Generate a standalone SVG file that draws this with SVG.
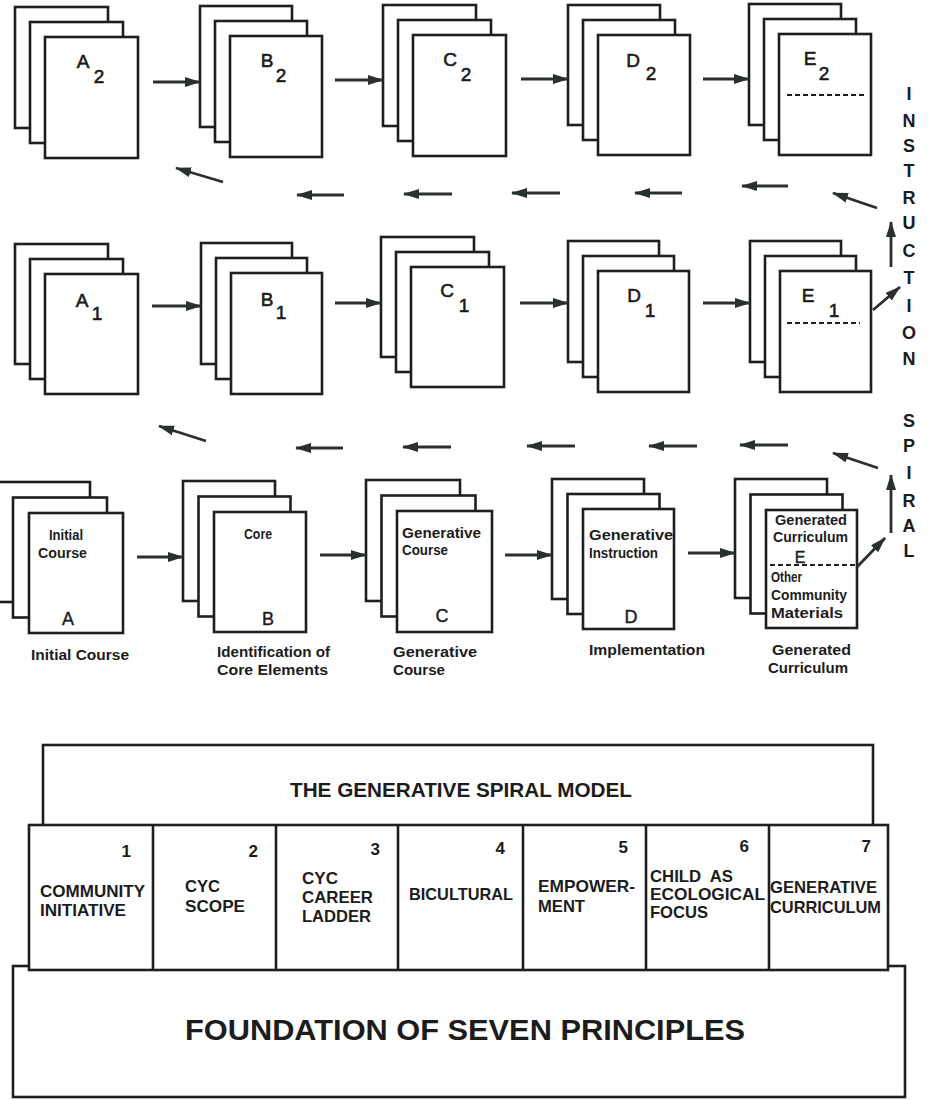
<svg xmlns="http://www.w3.org/2000/svg" width="929" height="1100" viewBox="0 0 929 1100">
<style>
text{font-family:"Liberation Sans",Arial,Helvetica,sans-serif;fill:#1c1c1c}
.pg{fill:#fff;stroke:#1e1e1e;stroke-width:2.6}
.pgb{fill:none;stroke:#1e1e1e;stroke-width:2.6}
.lbl{font-size:19px;text-anchor:middle;stroke:#1c1c1c;stroke-width:0.6}
.big{font-size:18px;text-anchor:middle;stroke:#1c1c1c;stroke-width:0.4}
.in{font-size:14px;font-weight:bold}
.cap{font-size:14.5px;font-weight:bold}
.dash{stroke:#1e1e1e;stroke-width:2.2;stroke-dasharray:5 3;fill:none}
.ar{stroke:#2a302b;stroke-width:2.8;fill:none;marker-end:url(#ah)}
.sp{font-size:18px;font-weight:bold;text-anchor:middle}
.pr{font-size:16.5px;font-weight:bold}
.num{font-size:17px;font-weight:bold;text-anchor:end}
.box{fill:#fff;stroke:#1e1e1e;stroke-width:2.6}
</style>
<defs>
<marker id="ah" markerUnits="userSpaceOnUse" markerWidth="18" markerHeight="12" refX="15" refY="5" orient="auto">
<path d="M0,0 L16,5 L0,10 Z" fill="#2a302b"/>
</marker>
</defs>
<rect x="0" y="0" width="929" height="1100" fill="#fff"/>

<!-- top row -->
<g id="stack-A2"><rect class="pg" x="15" y="7" width="93" height="121"/><rect class="pg" x="30" y="22" width="93" height="121"/><rect class="pg" x="45" y="37" width="93" height="121"/><text class="lbl" x="83" y="68">A</text><text class="lbl" x="99" y="83">2</text></g>
<g id="stack-B2"><rect class="pg" x="200" y="6" width="92" height="121"/><rect class="pg" x="215" y="21" width="92" height="121"/><rect class="pg" x="230" y="36" width="92" height="121"/><text class="lbl" x="267" y="67">B</text><text class="lbl" x="281" y="82">2</text></g>
<g id="stack-C2"><rect class="pg" x="383" y="5" width="93" height="121"/><rect class="pg" x="398" y="20" width="93" height="121"/><rect class="pg" x="413" y="35" width="93" height="121"/><text class="lbl" x="450" y="66">C</text><text class="lbl" x="466" y="81">2</text></g>
<g id="stack-D2"><rect class="pg" x="568" y="5" width="92" height="120"/><rect class="pg" x="583" y="20" width="92" height="120"/><rect class="pg" x="598" y="35" width="92" height="120"/><text class="lbl" x="633" y="67">D</text><text class="lbl" x="651" y="80">2</text></g>
<g id="stack-E2"><rect class="pg" x="749" y="4" width="92" height="121"/><rect class="pg" x="764" y="19" width="92" height="121"/><rect class="pg" x="779" y="34" width="92" height="121"/><text class="lbl" x="810" y="65">E</text><text class="lbl" x="824" y="80">2</text><line class="dash" x1="787" y1="95" x2="865" y2="95"/></g>

<!-- middle row -->
<g id="stack-A1"><rect class="pg" x="15" y="244" width="93" height="120"/><rect class="pg" x="30" y="259" width="93" height="120"/><rect class="pg" x="45" y="274" width="93" height="120"/><text class="lbl" x="82" y="307">A</text><text class="lbl" x="97" y="320">1</text></g>
<g id="stack-B1"><rect class="pg" x="201" y="243" width="91" height="121"/><rect class="pg" x="216" y="258" width="91" height="121"/><rect class="pg" x="231" y="273" width="91" height="121"/><text class="lbl" x="267" y="306">B</text><text class="lbl" x="281" y="319">1</text></g>
<g id="stack-C1"><rect class="pg" x="381" y="237" width="93" height="120"/><rect class="pg" x="396" y="252" width="93" height="120"/><rect class="pg" x="411" y="267" width="93" height="120"/><text class="lbl" x="447" y="297">C</text><text class="lbl" x="464" y="312">1</text></g>
<g id="stack-D1"><rect class="pg" x="568" y="241" width="91" height="121"/><rect class="pg" x="583" y="256" width="91" height="121"/><rect class="pg" x="598" y="271" width="91" height="121"/><text class="lbl" x="634" y="302">D</text><text class="lbl" x="650" y="317">1</text></g>
<g id="stack-E1"><rect class="pg" x="750" y="241" width="91" height="121"/><rect class="pg" x="765" y="256" width="91" height="121"/><rect class="pg" x="780" y="271" width="91" height="121"/><text class="lbl" x="808" y="302">E</text><text class="lbl" x="834" y="317">1</text><line class="dash" x1="787" y1="323" x2="860" y2="323"/></g>

<!-- bottom row -->
<g id="stack-A"><rect class="pg" x="-3" y="482" width="93" height="120"/><rect class="pg" x="13" y="497.5" width="94" height="120"/><rect class="pg" x="29" y="513" width="94" height="120"/>
<text class="in" x="49" y="540" textLength="34" lengthAdjust="spacingAndGlyphs">Initial</text>
<text class="in" x="38" y="558" textLength="49" lengthAdjust="spacingAndGlyphs">Course</text>
<text class="big" x="68" y="625">A</text>
<text class="cap" x="31" y="660" textLength="98" lengthAdjust="spacingAndGlyphs">Initial Course</text></g>
<g id="stack-B"><rect class="pg" x="183" y="481" width="92" height="120"/><rect class="pg" x="198.5" y="496.5" width="92" height="120"/><rect class="pg" x="214" y="512" width="92" height="120"/>
<text class="in" x="244" y="539" textLength="28" lengthAdjust="spacingAndGlyphs">Core</text>
<text class="big" x="268" y="625">B</text>
<text class="cap" x="217" y="657" textLength="113" lengthAdjust="spacingAndGlyphs">Identification of</text>
<text class="cap" x="217" y="675" textLength="111" lengthAdjust="spacingAndGlyphs">Core Elements</text></g>
<g id="stack-C"><rect class="pg" x="366" y="480" width="94" height="121"/><rect class="pg" x="381.5" y="495.5" width="94" height="121"/><rect class="pg" x="397" y="511" width="95" height="121"/>
<text class="in" x="402" y="538" textLength="79" lengthAdjust="spacingAndGlyphs">Generative</text>
<text class="in" x="402" y="555" textLength="46" lengthAdjust="spacingAndGlyphs">Course</text>
<text class="big" x="442" y="622">C</text>
<text class="cap" x="393" y="657" textLength="84" lengthAdjust="spacingAndGlyphs">Generative</text>
<text class="cap" x="393" y="675" textLength="52" lengthAdjust="spacingAndGlyphs">Course</text></g>
<g id="stack-D"><rect class="pg" x="552" y="479" width="92" height="120"/><rect class="pg" x="567.5" y="494" width="92" height="120"/><rect class="pg" x="583" y="509" width="91" height="120"/>
<text class="in" x="589" y="540" textLength="84" lengthAdjust="spacingAndGlyphs">Generative</text>
<text class="in" x="589" y="558" textLength="69" lengthAdjust="spacingAndGlyphs">Instruction</text>
<text class="big" x="631" y="623">D</text>
<text class="cap" x="589" y="655" textLength="116" lengthAdjust="spacingAndGlyphs">Implementation</text></g>
<g id="stack-E"><rect class="pg" x="735" y="479" width="92" height="119"/><rect class="pg" x="750.5" y="494.5" width="92" height="119"/><rect class="pg" x="766" y="510" width="91" height="118"/>
<text class="in" x="775" y="525" textLength="72" lengthAdjust="spacingAndGlyphs">Generated</text>
<text class="in" x="773" y="542" textLength="75" lengthAdjust="spacingAndGlyphs">Curriculum</text>
<text x="800" y="563" style="font-size:16px;text-anchor:middle;stroke:#1c1c1c;stroke-width:0.4">E</text>
<line class="dash" x1="770" y1="565" x2="858" y2="565"/>
<text class="in" x="771" y="582" textLength="31" lengthAdjust="spacingAndGlyphs">Other</text>
<text class="in" x="771" y="600" textLength="76" lengthAdjust="spacingAndGlyphs">Community</text>
<text class="in" x="771" y="618" textLength="72" lengthAdjust="spacingAndGlyphs">Materials</text>
<text class="cap" x="772" y="655" textLength="79" lengthAdjust="spacingAndGlyphs">Generated</text>
<text class="cap" x="768" y="673" textLength="80" lengthAdjust="spacingAndGlyphs">Curriculum</text></g>

<!-- connectors -->
<g id="connectors">
<line class="ar" x1="153" y1="82" x2="200" y2="82"/>
<line class="ar" x1="335" y1="80" x2="383" y2="80"/>
<line class="ar" x1="521" y1="79" x2="568" y2="79"/>
<line class="ar" x1="703" y1="79" x2="749" y2="79"/>
<line class="ar" x1="152" y1="306" x2="201" y2="306"/>
<line class="ar" x1="335" y1="303" x2="381" y2="303"/>
<line class="ar" x1="520" y1="303" x2="568" y2="303"/>
<line class="ar" x1="703" y1="303" x2="750" y2="303"/>
<line class="ar" x1="137" y1="557" x2="183" y2="557"/>
<line class="ar" x1="320" y1="555" x2="366" y2="555"/>
<line class="ar" x1="505" y1="555" x2="552" y2="555"/>
<line class="ar" x1="688" y1="553" x2="735" y2="553"/>
<!-- return row 1 -->
<line class="ar" x1="223" y1="182" x2="176" y2="168"/>
<line class="ar" x1="344" y1="195" x2="297" y2="195"/>
<line class="ar" x1="452" y1="194" x2="404" y2="194"/>
<line class="ar" x1="560" y1="193" x2="512" y2="193"/>
<line class="ar" x1="682" y1="193" x2="635" y2="193"/>
<line class="ar" x1="788" y1="186" x2="742" y2="186"/>
<line class="ar" x1="877" y1="208" x2="833" y2="193"/>
<!-- return row 2 -->
<line class="ar" x1="206" y1="441" x2="159" y2="426"/>
<line class="ar" x1="343" y1="448" x2="296" y2="448"/>
<line class="ar" x1="451" y1="447" x2="403" y2="447"/>
<line class="ar" x1="575" y1="446" x2="527" y2="446"/>
<line class="ar" x1="697" y1="446" x2="649" y2="446"/>
<line class="ar" x1="788" y1="445" x2="740" y2="445"/>
<line class="ar" x1="878" y1="468" x2="833" y2="453"/>
<!-- spiral up -->
<line class="ar" x1="873" y1="310" x2="900" y2="287"/>
<line class="ar" x1="891" y1="267" x2="891" y2="222"/>
<line class="ar" x1="857" y1="567" x2="885" y2="538"/>
<line class="ar" x1="891" y1="533" x2="891" y2="475"/>
</g>

<g id="spiral-label">
<text class="sp" x="909" y="100">I</text>
<text class="sp" x="909" y="127">N</text>
<text class="sp" x="909" y="152">S</text>
<text class="sp" x="909" y="177">T</text>
<text class="sp" x="909" y="204">R</text>
<text class="sp" x="909" y="229">U</text>
<text class="sp" x="909" y="257">C</text>
<text class="sp" x="909" y="284">T</text>
<text class="sp" x="909" y="312">I</text>
<text class="sp" x="909" y="339">O</text>
<text class="sp" x="909" y="365">N</text>
<text class="sp" x="909" y="427">S</text>
<text class="sp" x="909" y="452">P</text>
<text class="sp" x="909" y="479">I</text>
<text class="sp" x="909" y="507">R</text>
<text class="sp" x="909" y="532">A</text>
<text class="sp" x="909" y="557">L</text>
</g>

<!-- bottom model -->
<g id="spiral-model"><rect class="box" x="43" y="745" width="830" height="82"/>
<text x="290" y="797" style="font-size:20px;font-weight:bold" textLength="342" lengthAdjust="spacingAndGlyphs">THE GENERATIVE SPIRAL MODEL</text></g>
<g id="foundation"><rect class="box" x="13" y="966" width="892" height="131"/>
<text x="185" y="1040" style="font-size:29px;font-weight:bold" textLength="560" lengthAdjust="spacingAndGlyphs">FOUNDATION OF SEVEN PRINCIPLES</text></g>
<g id="principles"><rect class="box" x="29" y="825" width="859" height="145"/>
<line class="pgb" x1="153" y1="825" x2="153" y2="970"/>
<line class="pgb" x1="276" y1="825" x2="276" y2="970"/>
<line class="pgb" x1="398" y1="825" x2="398" y2="970"/>
<line class="pgb" x1="523" y1="825" x2="523" y2="970"/>
<line class="pgb" x1="646" y1="825" x2="646" y2="970"/>
<line class="pgb" x1="769" y1="825" x2="769" y2="970"/>
</g>
<g id="p1"><text class="num" x="131" y="857">1</text><text class="pr" x="40" y="897" textLength="105" lengthAdjust="spacingAndGlyphs">COMMUNITY</text><text class="pr" x="40" y="916" textLength="86" lengthAdjust="spacingAndGlyphs">INITIATIVE</text></g>
<g id="p2"><text class="num" x="258" y="857">2</text><text class="pr" x="185" y="892" textLength="35" lengthAdjust="spacingAndGlyphs">CYC</text><text class="pr" x="185" y="912" textLength="60" lengthAdjust="spacingAndGlyphs">SCOPE</text></g>
<g id="p3"><text class="num" x="380" y="855">3</text><text class="pr" x="302" y="884" textLength="36" lengthAdjust="spacingAndGlyphs">CYC</text><text class="pr" x="302" y="903" textLength="71" lengthAdjust="spacingAndGlyphs">CAREER</text><text class="pr" x="302" y="922" textLength="69" lengthAdjust="spacingAndGlyphs">LADDER</text></g>
<g id="p4"><text class="num" x="505" y="854">4</text><text class="pr" x="409" y="900" textLength="104" lengthAdjust="spacingAndGlyphs">BICULTURAL</text></g>
<g id="p5"><text class="num" x="628" y="853">5</text><text class="pr" x="538" y="892" textLength="97" lengthAdjust="spacingAndGlyphs">EMPOWER-</text><text class="pr" x="538" y="912" textLength="47" lengthAdjust="spacingAndGlyphs">MENT</text></g>
<g id="p6"><text class="num" x="749" y="852">6</text><text class="pr" x="650" y="882" textLength="83" lengthAdjust="spacingAndGlyphs" xml:space="preserve">CHILD  AS</text><text class="pr" x="650" y="900" textLength="115" lengthAdjust="spacingAndGlyphs">ECOLOGICAL</text><text class="pr" x="650" y="918" textLength="58" lengthAdjust="spacingAndGlyphs">FOCUS</text></g>
<g id="p7"><text class="num" x="871" y="852">7</text><text class="pr" x="770" y="893" textLength="107" lengthAdjust="spacingAndGlyphs">GENERATIVE</text><text class="pr" x="770" y="913" textLength="111" lengthAdjust="spacingAndGlyphs">CURRICULUM</text></g>
</svg>
